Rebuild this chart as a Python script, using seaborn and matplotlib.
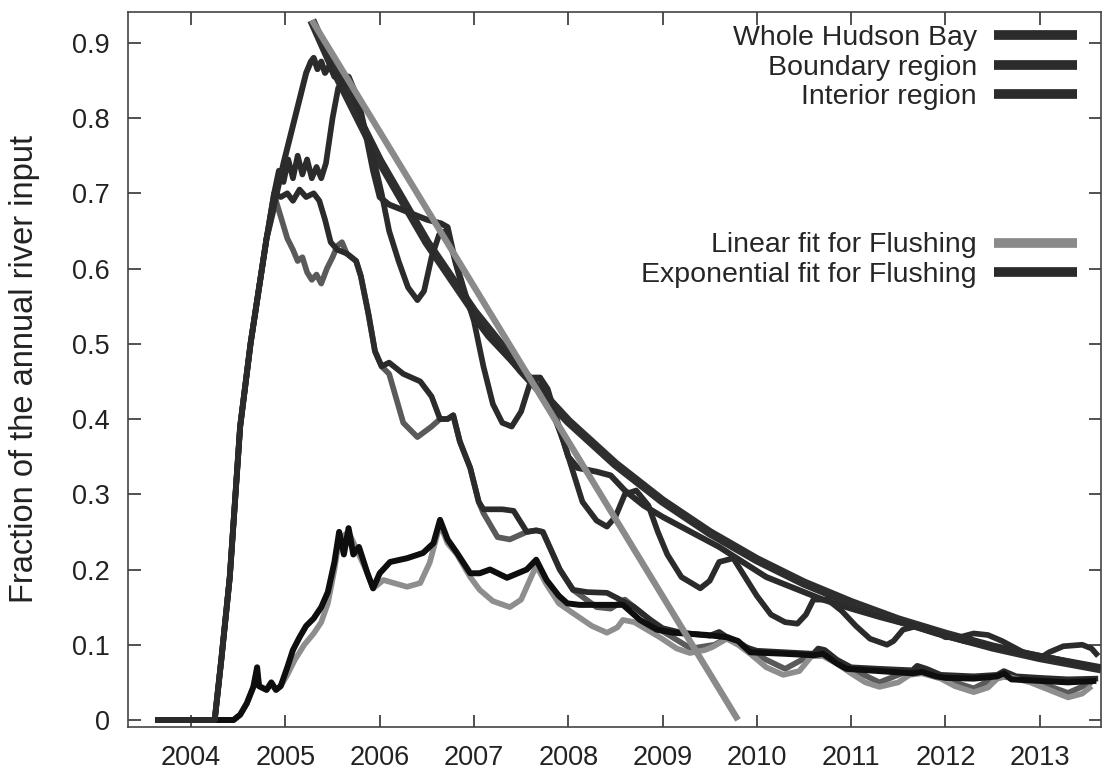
import matplotlib
matplotlib.use("Agg")
import numpy as np
import pandas as pd
import seaborn as sns
import matplotlib.pyplot as plt
from matplotlib.lines import Line2D

# ---------------- data ----------------
# Whole Hudson Bay, smooth member
whole_a_t = [2003.62, 2004.25, 2004.32, 2004.41, 2004.52, 2004.63, 2004.8, 2004.98, 2005.08, 2005.16,
             2005.22, 2005.27, 2005.3, 2005.34, 2005.38, 2005.42, 2005.47, 2005.52, 2005.57, 2005.62,
             2005.67, 2005.72, 2005.78, 2005.85, 2005.93, 2006.0, 2006.1, 2006.3, 2006.5, 2006.65,
             2006.72, 2006.8, 2006.9, 2007.0, 2007.15, 2007.3, 2007.45, 2007.6, 2007.7, 2007.78,
             2007.9, 2008.0, 2008.1, 2008.3, 2008.45, 2008.6, 2008.8, 2009.0, 2009.3, 2009.6,
             2009.85, 2010.1, 2010.4, 2010.7, 2011.0, 2011.3, 2011.6, 2011.9, 2012.2, 2012.5,
             2012.8, 2013.1, 2013.4, 2013.62]
whole_a_v = [0, 0, 0.08, 0.19, 0.39, 0.50, 0.64, 0.74, 0.79, 0.83,
             0.86, 0.875, 0.88, 0.865, 0.875, 0.86, 0.87, 0.855, 0.86, 0.845,
             0.855, 0.84, 0.82, 0.78, 0.73, 0.695, 0.685, 0.675, 0.665, 0.66,
             0.655, 0.61, 0.565, 0.535, 0.51, 0.49, 0.47, 0.455, 0.455, 0.44,
             0.39, 0.35, 0.335, 0.33, 0.325, 0.305, 0.285, 0.27, 0.25, 0.23,
             0.21, 0.19, 0.175, 0.16, 0.148, 0.137, 0.127, 0.115, 0.105, 0.097,
             0.09, 0.083, 0.075, 0.07]

# Whole Hudson Bay, oscillating member
whole_b_t = [2003.62, 2004.25, 2004.32, 2004.41, 2004.52, 2004.63, 2004.8, 2004.88, 2004.93, 2004.98,
             2005.03, 2005.08, 2005.13, 2005.18, 2005.23, 2005.28, 2005.33, 2005.38, 2005.43, 2005.5,
             2005.56, 2005.62, 2005.7, 2005.8, 2005.9, 2006.02, 2006.1, 2006.2, 2006.3, 2006.4,
             2006.47, 2006.55, 2006.63, 2006.7, 2006.78, 2006.9, 2007.0, 2007.1, 2007.2, 2007.3,
             2007.4, 2007.5, 2007.6, 2007.7, 2007.8, 2007.95, 2008.05, 2008.15, 2008.3, 2008.41,
             2008.5, 2008.6, 2008.72, 2008.85, 2008.95, 2009.05, 2009.2, 2009.4, 2009.5, 2009.6,
             2009.75, 2009.85, 2010.0, 2010.15, 2010.3, 2010.43, 2010.52, 2010.6, 2010.75, 2010.9,
             2011.05, 2011.2, 2011.38, 2011.45, 2011.55, 2011.7, 2011.85, 2012.0, 2012.15, 2012.3,
             2012.45, 2012.6, 2012.75, 2012.9, 2013.0, 2013.1, 2013.25, 2013.45, 2013.55, 2013.62]
whole_b_v = [0, 0, 0.08, 0.19, 0.39, 0.50, 0.64, 0.70, 0.73, 0.715,
             0.745, 0.72, 0.75, 0.725, 0.745, 0.72, 0.735, 0.72, 0.74, 0.80,
             0.84, 0.85, 0.84, 0.80, 0.765, 0.70, 0.65, 0.61, 0.575, 0.558,
             0.57, 0.615, 0.645, 0.65, 0.62, 0.57, 0.53, 0.47, 0.42, 0.395,
             0.39, 0.41, 0.45, 0.455, 0.42, 0.37, 0.33, 0.29, 0.265, 0.257,
             0.27, 0.30, 0.305, 0.285, 0.25, 0.22, 0.19, 0.175, 0.185, 0.21,
             0.215, 0.195, 0.165, 0.14, 0.13, 0.128, 0.14, 0.16, 0.16, 0.145,
             0.125, 0.108, 0.10, 0.105, 0.12, 0.125, 0.12, 0.11, 0.11, 0.115,
             0.113, 0.105, 0.095, 0.085, 0.082, 0.09, 0.098, 0.10, 0.095, 0.085]

# Boundary region, dark member
bound_a_t = [2003.62, 2004.25, 2004.32, 2004.41, 2004.52, 2004.63, 2004.8, 2004.88, 2004.95, 2005.02,
             2005.08, 2005.15, 2005.22, 2005.3, 2005.36, 2005.42, 2005.48, 2005.55, 2005.65, 2005.75,
             2005.8, 2005.88, 2005.95, 2006.02, 2006.1, 2006.25, 2006.43, 2006.55, 2006.64, 2006.72,
             2006.78, 2006.85, 2006.96, 2007.05, 2007.1, 2007.3, 2007.42, 2007.56, 2007.66, 2007.73,
             2007.82, 2007.91, 2008.05, 2008.2, 2008.41, 2008.55, 2008.7, 2008.85, 2009.0, 2009.2,
             2009.5, 2009.6, 2009.72, 2009.85, 2010.0, 2010.3, 2010.6, 2010.65, 2010.72, 2010.85,
             2011.0, 2011.3, 2011.65, 2011.7, 2011.8, 2011.95, 2012.3, 2012.55, 2012.62, 2012.75,
             2013.0, 2013.3, 2013.62]
bound_a_v = [0, 0, 0.08, 0.19, 0.39, 0.50, 0.64, 0.70, 0.695, 0.70,
             0.69, 0.705, 0.695, 0.70, 0.69, 0.665, 0.635, 0.625, 0.62, 0.61,
             0.59, 0.54, 0.49, 0.47, 0.475, 0.46, 0.45, 0.43, 0.40, 0.40,
             0.405, 0.37, 0.335, 0.29, 0.28, 0.28, 0.278, 0.25, 0.252, 0.25,
             0.225, 0.20, 0.173, 0.17, 0.169, 0.16, 0.15, 0.135, 0.122, 0.116,
             0.112, 0.117, 0.107, 0.098, 0.092, 0.09, 0.088, 0.095, 0.093, 0.08,
             0.07, 0.068, 0.066, 0.072, 0.068, 0.06, 0.058, 0.06, 0.065, 0.058,
             0.056, 0.054, 0.055]

# Boundary region, second member
bound_b_t = [2003.62, 2004.25, 2004.32, 2004.41, 2004.52, 2004.63, 2004.8, 2004.9, 2004.96, 2005.02,
             2005.08, 2005.13, 2005.18, 2005.23, 2005.28, 2005.33, 2005.38, 2005.44, 2005.5, 2005.55,
             2005.6, 2005.65, 2005.75, 2005.8, 2005.88, 2005.95, 2006.02, 2006.1, 2006.25, 2006.4,
             2006.55, 2006.64, 2006.72, 2006.78, 2006.85, 2006.96, 2007.05, 2007.1, 2007.25, 2007.38,
             2007.56, 2007.66, 2007.73, 2007.82, 2007.91, 2008.05, 2008.3, 2008.45, 2008.6, 2008.7,
             2008.85, 2009.0, 2009.3, 2009.55, 2009.7, 2009.85, 2010.1, 2010.3, 2010.55, 2010.7,
             2011.0, 2011.3, 2011.6, 2011.8, 2012.1, 2012.3, 2012.55, 2012.8, 2013.1, 2013.3,
             2013.55]
bound_b_v = [0, 0, 0.08, 0.19, 0.39, 0.50, 0.64, 0.69, 0.665, 0.64,
             0.625, 0.61, 0.615, 0.595, 0.585, 0.592, 0.58, 0.60, 0.615, 0.63,
             0.635, 0.62, 0.61, 0.59, 0.54, 0.49, 0.47, 0.46, 0.395, 0.376,
             0.39, 0.40, 0.40, 0.405, 0.37, 0.335, 0.29, 0.275, 0.243, 0.24,
             0.25, 0.252, 0.25, 0.225, 0.20, 0.173, 0.15, 0.148, 0.16, 0.15,
             0.135, 0.118, 0.095, 0.10, 0.11, 0.10, 0.08, 0.068, 0.085, 0.09,
             0.068, 0.05, 0.065, 0.066, 0.05, 0.042, 0.058, 0.055, 0.045, 0.036,
             0.05]

# Interior region, black member
inter_a_t = [2003.62, 2004.45, 2004.52, 2004.59, 2004.66, 2004.7, 2004.72, 2004.8, 2004.85, 2004.9,
             2004.95, 2005.02, 2005.08, 2005.15, 2005.22, 2005.3, 2005.38, 2005.45, 2005.52, 2005.57,
             2005.62, 2005.67, 2005.72, 2005.78, 2005.87, 2005.93, 2006.0, 2006.11, 2006.29, 2006.46,
             2006.57, 2006.64, 2006.72, 2006.82, 2006.96, 2007.06, 2007.17, 2007.35, 2007.56, 2007.66,
             2007.77, 2007.9, 2007.99, 2008.12, 2008.41, 2008.58, 2008.76, 2008.94, 2009.11, 2009.47,
             2009.68, 2009.8, 2009.93, 2010.3, 2010.6, 2010.7, 2010.85, 2010.95, 2011.3, 2011.65,
             2011.75, 2011.9, 2012.0, 2012.3, 2012.55, 2012.62, 2012.7, 2013.0, 2013.3, 2013.6]
inter_a_v = [0, 0, 0.007, 0.022, 0.044, 0.07, 0.045, 0.04, 0.05, 0.04,
             0.045, 0.07, 0.093, 0.11, 0.125, 0.135, 0.15, 0.17, 0.21, 0.25,
             0.22, 0.255, 0.22, 0.23, 0.195, 0.175, 0.195, 0.21, 0.215, 0.222,
             0.235, 0.266, 0.24, 0.222, 0.195, 0.195, 0.20, 0.189, 0.20, 0.213,
             0.186, 0.165, 0.155, 0.153, 0.153, 0.153, 0.133, 0.12, 0.116, 0.113,
             0.11, 0.105, 0.09, 0.088, 0.086, 0.088, 0.075, 0.068, 0.065, 0.062,
             0.064, 0.058, 0.056, 0.055, 0.058, 0.062, 0.054, 0.052, 0.05, 0.052]

# Interior region, grey member
inter_b_t = [2003.62, 2004.45, 2004.52, 2004.59, 2004.66, 2004.7, 2004.72, 2004.8, 2004.85, 2004.9,
             2004.95, 2005.02, 2005.1, 2005.2, 2005.3, 2005.38, 2005.45, 2005.52, 2005.57, 2005.67,
             2005.78, 2005.87, 2005.93, 2006.04, 2006.29, 2006.43, 2006.53, 2006.64, 2006.72, 2006.82,
             2006.96, 2007.06, 2007.2, 2007.38, 2007.5, 2007.56, 2007.66, 2007.77, 2007.9, 2008.05,
             2008.25, 2008.41, 2008.52, 2008.58, 2008.7, 2008.97, 2009.15, 2009.29, 2009.45, 2009.53,
             2009.68, 2009.8, 2009.93, 2010.1, 2010.28, 2010.45, 2010.58, 2010.7, 2010.85, 2011.0,
             2011.15, 2011.3, 2011.5, 2011.62, 2011.75, 2011.95, 2012.1, 2012.3, 2012.45, 2012.55,
             2012.65, 2012.9, 2013.1, 2013.3, 2013.45, 2013.55]
inter_b_v = [0, 0, 0.007, 0.022, 0.044, 0.065, 0.045, 0.04, 0.048, 0.04,
             0.045, 0.06, 0.08, 0.10, 0.115, 0.13, 0.155, 0.20, 0.24, 0.25,
             0.22, 0.195, 0.175, 0.186, 0.177, 0.182, 0.209, 0.26, 0.235, 0.22,
             0.19, 0.173, 0.158, 0.15, 0.16, 0.177, 0.205, 0.18, 0.155, 0.142,
             0.125, 0.116, 0.123, 0.133, 0.13, 0.11, 0.095, 0.089, 0.093, 0.097,
             0.108, 0.10, 0.088, 0.07, 0.06, 0.065, 0.085, 0.085, 0.075, 0.062,
             0.05, 0.044, 0.05, 0.06, 0.062, 0.055, 0.045, 0.037, 0.043, 0.055,
             0.058, 0.05, 0.04, 0.03, 0.035, 0.045]

# Fits for flushing
lin_fit_t = [2005.28, 2009.8]
lin_fit_v = [0.93, 0.0]
exp_fit_t = [2005.28, 2005.5, 2006.0, 2006.5, 2007.0, 2007.5, 2008.0, 2008.5, 2009.0, 2009.5,
             2010.0, 2010.5, 2011.0, 2011.5, 2012.0, 2012.5, 2013.0, 2013.65]
exp_fit_v = [0.930, 0.868, 0.743, 0.635, 0.543, 0.465, 0.397, 0.340, 0.291, 0.249,
             0.213, 0.182, 0.156, 0.133, 0.114, 0.097, 0.083, 0.068]

year_ticks = [2004, 2005, 2006, 2007, 2008, 2009, 2010, 2011, 2012, 2013]
year_labels = ["2004", "2005", "2006", "2007", "2008", "2009", "2010", "2011", "2012", "2013"]
frac_ticks = [0, 0.1, 0.2, 0.3, 0.4, 0.5, 0.6, 0.7, 0.8, 0.9]
frac_labels = ["0", "0.1", "0.2", "0.3", "0.4", "0.5", "0.6", "0.7", "0.8", "0.9"]

legend_top = ["Whole Hudson Bay", "Boundary region", "Interior region"]
legend_fit = ["Linear fit for Flushing", "Exponential fit for Flushing"]

# ---------------- plotting ----------------
sns.set_style("ticks")
plt.rcParams['font.family'] = ['Liberation Sans', 'DejaVu Sans']

fig = plt.figure(figsize=(11.03, 7.72), dpi=100)
ax = fig.add_axes([0.1160, 0.0583, 0.8822, 0.9262])

DARK = "#2b2b2b"
BLACK = "#0e0e0e"
GREY = "#8e8e8e"
MIDGREY = "#5a5a5a"

series = [
    (bound_b_t, bound_b_v, MIDGREY, 4.1, 2),
    (bound_a_t, bound_a_v, DARK, 4.1, 3),
    (inter_b_t, inter_b_v, GREY, 4.1, 4),
    (inter_a_t, inter_a_v, BLACK, 4.3, 5),
    (exp_fit_t, exp_fit_v, "#2e2e2e", 6.6, 6),
    (whole_a_t, whole_a_v, DARK, 4.3, 7),
    (whole_b_t, whole_b_v, DARK, 4.1, 8),
    (lin_fit_t, lin_fit_v, "#8a8a8a", 4.6, 9),
]
for t, v, col, lw, z in series:
    df = pd.DataFrame({"year": t, "frac": v})
    sns.lineplot(data=df, x="year", y="frac", ax=ax, color=col, linewidth=lw,
                 estimator=None, sort=False, zorder=z, legend=False,
                 solid_joinstyle="round", solid_capstyle="butt")

ax.set_xlim(2003.33, 2013.65)
ax.set_ylim(-0.0093, 0.941)
ax.set_xticks(year_ticks)
ax.set_xticklabels(year_labels)
ax.set_yticks(frac_ticks)
ax.set_yticklabels(frac_labels)
ax.set_xlabel("")
ax.set_ylabel("Fraction of the annual river input", fontsize=23.5, color="#222222")
ax.yaxis.set_label_coords(-0.09, 0.5)
ax.tick_params(direction="in", length=9, width=1.2, top=True, right=True,
               labelsize=19.5, pad=13, colors="#333333", labelcolor="#222222")
for s in ax.spines.values():
    s.set_visible(True)
    s.set_color("#444444")
    s.set_linewidth(1.2)

def right_align(leg):
    try:
        cols = leg._legend_box.get_children()[-1].get_children()
        for c in cols:
            c.align = "right"
    except Exception:
        pass

h_top = [Line2D([], [], color=DARK, lw=7, solid_capstyle="butt") for _ in legend_top]
leg1 = ax.legend(h_top, legend_top, loc="upper right", bbox_to_anchor=(0.9753, 0.982),
                 frameon=False, markerfirst=False, fontsize=20.5, handlelength=2.9,
                 handletextpad=0.62, labelspacing=0.13, borderpad=0, borderaxespad=0)
right_align(leg1)
ax.add_artist(leg1)

h_fit = [Line2D([], [], color="#8a8a8a", lw=7, solid_capstyle="butt"),
         Line2D([], [], color=DARK, lw=7, solid_capstyle="butt")]
leg2 = ax.legend(h_fit, legend_fit, loc="upper right", bbox_to_anchor=(0.9753, 0.6916),
                 frameon=False, markerfirst=False, fontsize=20.5, handlelength=2.9,
                 handletextpad=0.62, labelspacing=0.13, borderpad=0, borderaxespad=0)
right_align(leg2)

fig.savefig("out.png", dpi=100)
